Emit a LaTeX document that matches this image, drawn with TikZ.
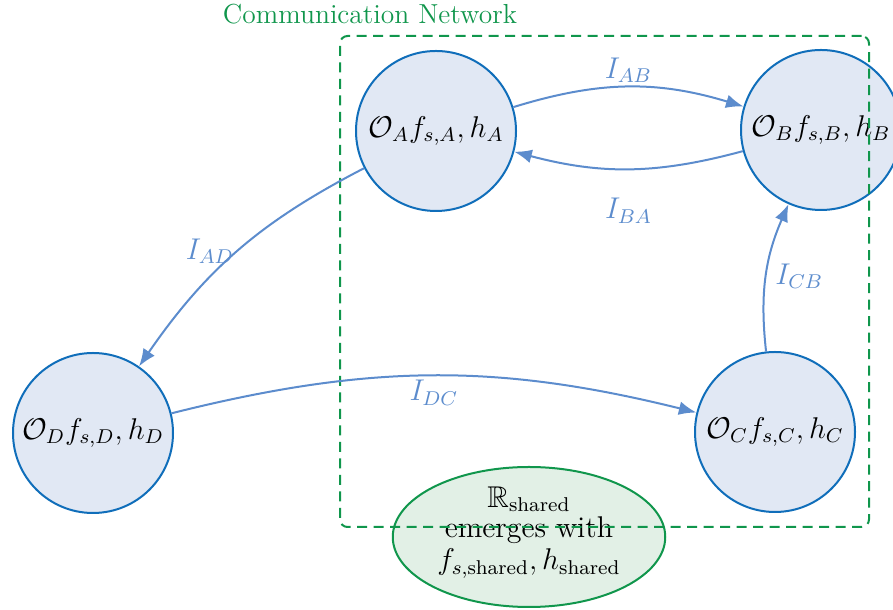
\documentclass[tikz,border=0pt]{standalone}
\usepackage{amsmath,amssymb}
\usetikzlibrary{arrows.meta,shapes.geometric}
\definecolor{agentfill}{RGB}{225,232,244}
\definecolor{agentline}{RGB}{16,110,186}
\definecolor{msgblue}{RGB}{92,140,205}
\definecolor{netgreen}{RGB}{16,150,76}
\definecolor{sharedfill}{RGB}{226,240,230}
\tikzset{
  agent/.style={circle, draw=agentline, fill=agentfill, line width=0.8pt,
    minimum size=64pt, inner sep=0pt, font=\large},
  msg/.style={draw=msgblue, line width=0.8pt,
    -{Latex[length=7pt,width=5.5pt]}},
  msglabel/.style={text=msgblue, font=\large},
  netbox/.style={draw=netgreen, dashed, dash pattern=on 4pt off 2.6pt,
    line width=0.8pt, rounded corners=3pt, inner sep=0pt},
  sharedbox/.style={ellipse, draw=netgreen, fill=sharedfill, line width=0.8pt,
    minimum width=109pt, minimum height=56pt, inner sep=0pt, font=\large}
}
\begin{document}
\begin{tikzpicture}[x=0.4pt,y=-0.4pt]
  \useasboundingbox (0,0) rectangle (893,610);

  % agents
  \node[agent] (A) at (436,131) {$\mathcal{O}_A f_{s,A}, h_A$};
  \node[agent] (B) at (821,130) {$\mathcal{O}_B f_{s,B}, h_B$};
  \node[agent] (C) at (775,432) {$\mathcal{O}_C f_{s,C}, h_C$};
  \node[agent] (D) at (93,433) {$\mathcal{O}_D f_{s,D}, h_D$};

  % shared representation (text block lifted slightly inside the ellipse)
  \node[sharedbox] (S) at (529,537)
    {\raisebox{2.2pt}[\height][\depth]{\begin{tabular}{@{}c@{}}$\mathbb{R}_{\text{shared}}$\\[-2pt]emerges with\\[-1pt]$f_{s,\text{shared}}, h_{\text{shared}}$\end{tabular}}};

  % communication network boundary
  \node[netbox, minimum width=211.6pt, minimum height=196.4pt] (net) at (604.5,281.5) {};
  \node[text=netgreen, font=\fontsize{11}{13}\selectfont] (netlabel) at (370,14) {Communication Network};

  % messages
  \draw[msg] (A) to[bend left=17] node[msglabel, above=-2pt] {$I_{AB}$} (B);
  \draw[msg] (B) to[bend left=15] node[msglabel, below=8pt] {$I_{BA}$} (A);
  \draw[msg] (A) to[bend right=14] node[msglabel, left, pos=0.5, inner sep=1pt] {$I_{AD}$} (D);
  \draw[msg] (D) to[bend left=14] node[msglabel, below=-2pt, pos=0.5] {$I_{DC}$} (C);
  \draw[msg] (C) to[bend left=15] node[msglabel, right, pos=0.5] {$I_{CB}$} (B);
\end{tikzpicture}
\end{document}
